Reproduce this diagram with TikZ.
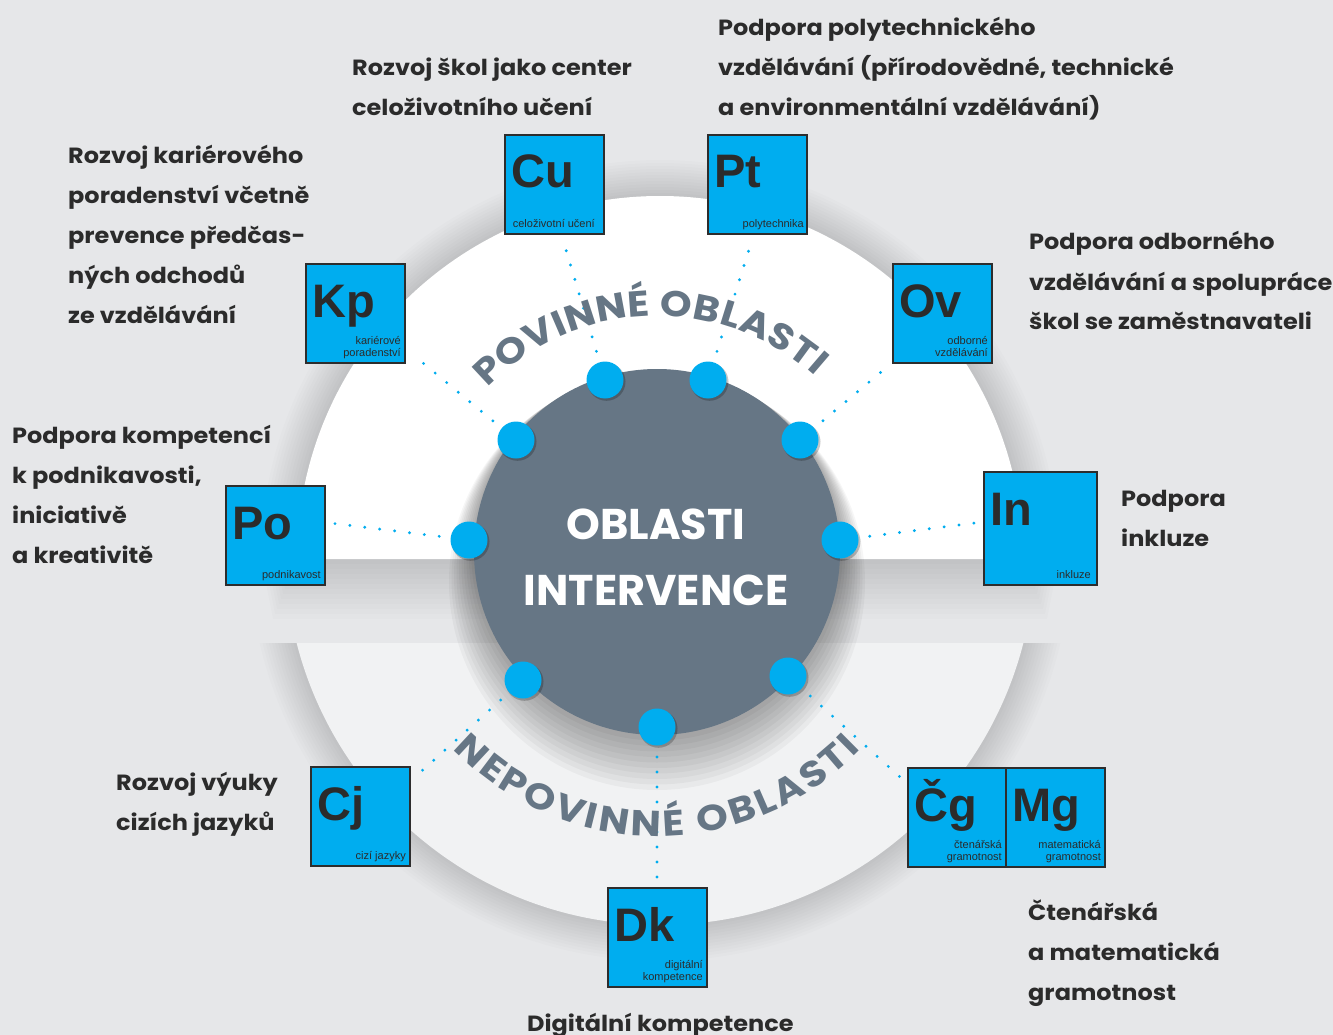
\documentclass[tikz,border=0pt]{standalone}
\usepackage{fontspec}
\usetikzlibrary{decorations.text}
\newfontfamily\pop{Poppins}[FakeStretch=1.09]
\newfontfamily\popa{Poppins}[FakeStretch=1.12]
\newfontfamily\popc{Poppins}
\newfontfamily\arl{Liberation Sans}
\definecolor{bgc}{HTML}{E6E7E9}
\definecolor{lowc}{HTML}{F1F2F3}
\definecolor{slate}{HTML}{667685}
\definecolor{cyanb}{HTML}{00ADEF}
\definecolor{ink}{HTML}{2B2B2B}
\definecolor{boxline}{HTML}{2D2D2D}
\pgfdeclarelayer{bgl}
\pgfdeclarelayer{linel}
\pgfsetlayers{bgl,linel,main}
\newcommand\blktab[1]{\begin{tabular}[t]{@{}l@{}}#1\end{tabular}}
\newcommand\subtab[1]{\begin{tabular}[b]{@{}r@{}}#1\end{tabular}}
\newcommand\arcf{\popa\bfseries\fontsize{36}{36}\selectfont}
\tikzset{
 boxn/.style={draw=boxline, line width=1.5pt, fill=cyanb, minimum size=99pt, inner sep=0pt, outer sep=0pt, anchor=north west},
 symn/.style={font=\arl\bfseries\fontsize{47}{47}\selectfont, text=ink, inner sep=0pt, anchor=base west},
 subn/.style={font=\arl\fontsize{11}{11.5}\selectfont, text=ink, inner sep=0pt, anchor=base east},
 bdot/.style={circle, fill=cyanb, minimum size=37pt, inner sep=0pt},
 dshad/.style={circle, fill=black, fill opacity=0.22, minimum size=38pt, inner sep=0pt},
 dotline/.style={draw=cyanb, line width=3.2pt, line cap=round, dash pattern=on 0pt off 15pt},
 blk/.style={font=\pop\bfseries\fontsize{22}{40}\selectfont, text=ink, inner sep=0pt, anchor=base west},
 ctext/.style={font=\popc\bfseries\fontsize{43}{43}\selectfont, text=white, inner sep=0pt, anchor=base},
}
\begin{document}
\begin{tikzpicture}[x=1pt,y=1pt]
\useasboundingbox (0,0) rectangle (1333,-1035);
\begin{pgfonlayer}{bgl}
\fill[bgc] (0,0) rectangle (1333,-1035);
% lower disc with shadow
\begin{scope}
 \clip (0,-643) rectangle (1333,-1035);
 \foreach \k in {1,...,12}{
  \fill[black,opacity=0.0125] (660,-550) circle[radius=375+3*\k];
 }
 \fill[lowc] (660,-550) circle[radius=375];
\end{scope}
% upper disc with shadow
\foreach \k in {1,...,12}{
 \fill[black,opacity=0.011] (660-363-2*\k,-559-5*\k) -- (660-363-3*\k,-559)
   arc[start angle=180,end angle=0,radius=363+3*\k] -- (660+363+2*\k,-559-5*\k) -- cycle;
}
\fill[white] (297,-559) arc[start angle=180,end angle=0,radius=363] -- cycle;
% central circle with shadow
\foreach \k in {1,...,10}{
 \fill[black,opacity=0.035] (657,-552-3*\k) circle[radius=183+2.5*\k];
}
\fill[slate] (657,-552) circle[radius=183];
\end{pgfonlayer}

% boxes
\node[boxn] (cu) at (505,-135) {};
\node[boxn] (pt) at (708,-135) {};
\node[boxn] (kp) at (306,-264) {};
\node[boxn] (ov) at (893,-264) {};
\node[boxn] (po) at (226,-486) {};
\node[boxn, minimum size=113pt] (in) at (984,-472) {};
\node[boxn] (cj) at (311,-767) {};
\node[boxn, minimum width=98pt] (cg) at (908,-768) {};
\node[boxn] (mg) at (1006,-768) {};
\node[boxn] (dk) at (608,-888) {};

\node[symn] (cus) at ([shift={(6,-53)}]cu.north west) {Cu};
\node[symn] (pts) at ([shift={(6,-53)}]pt.north west) {Pt};
\node[symn] (kps) at ([shift={(6,-53)}]kp.north west) {Kp};
\node[symn] (ovs) at ([shift={(6,-53)}]ov.north west) {Ov};
\node[symn] (pos) at ([shift={(6,-53)}]po.north west) {Po};
\node[symn] (ins) at ([shift={(6,-53)}]in.north west) {In};
\node[symn] (cjs) at ([shift={(6,-53)}]cj.north west) {Cj};
\node[symn] (cgs) at ([shift={(6,-53)}]cg.north west) {Čg};
\node[symn] (mgs) at ([shift={(6,-53)}]mg.north west) {Mg};
\node[symn] (dks) at ([shift={(6,-53)}]dk.north west) {Dk};

\node[subn] (cul) at ([shift={(-9,7)}]cu.south east) {celoživotní učení};
\node[subn] (ptl) at ([shift={(-3,7)}]pt.south east) {polytechnika};
\node[subn] (kpl) at ([shift={(-4,7)}]kp.south east) {\subtab{kariérové\\poradenství}};
\node[subn] (ovl) at ([shift={(-4,7)}]ov.south east) {\subtab{odborné\\vzdělávání}};
\node[subn] (pol) at ([shift={(-4,7)}]po.south east) {podnikavost};
\node[subn] (inl) at ([shift={(-6,7)}]in.south east) {inkluze};
\node[subn] (cjl) at ([shift={(-4,7)}]cj.south east) {cizí jazyky};
\node[subn] (cgl) at ([shift={(-4,7)}]cg.south east) {\subtab{čtenářská\\gramotnost}};
\node[subn] (mgl) at ([shift={(-4,7)}]mg.south east) {\subtab{matematická\\gramotnost}};
\node[subn] (dkl) at ([shift={(-4,7)}]dk.south east) {\subtab{digitální\\kompetence}};

% connector end points near the boxes
\coordinate (ecu) at (563,-240);
\coordinate (ept) at (752,-240);
\coordinate (ekp) at (417,-358);
\coordinate (eov) at (887,-367);
\coordinate (epo) at (330,-523);
\coordinate (ein) at (975,-523);
\coordinate (ecj) at (415,-777);
\coordinate (ecg) at (900,-777);
\coordinate (edk) at (657,-885);

% dot shadows and dots
\foreach \p/\x/\y in {cu/605/380, pt/708/380, kp/516/440, ov/800/440, po/469/540, in/840/540, cj/523/680, cg/788/676, dk/657/727}{
 \node[dshad] at (\x+1.5,-\y-1.8) {};
}
\node[bdot] (dcu) at (605,-380) {};
\node[bdot] (dpt) at (708,-380) {};
\node[bdot] (dkp) at (516,-440) {};
\node[bdot] (dov) at (800,-440) {};
\node[bdot] (dpo) at (469,-540) {};
\node[bdot] (din) at (840,-540) {};
\node[bdot] (dcj) at (523,-680) {};
\node[bdot] (dcg) at (788,-676) {};
\node[bdot] (ddk) at (657,-727) {};

\begin{pgfonlayer}{linel}
\foreach \a/\b in {dcu/ecu, dpt/ept, dkp/ekp, dov/eov, dpo/epo, din/ein, dcj/ecj, dcg/ecg, ddk/edk}{
 \draw[dotline] (\a.center) -- (\b);
}
% arc texts
\path[decorate, decoration={text along path, text align={fit to path}, text color=slate,
  text={|\arcf|POVINNÉ OBLASTI}}]
  ([shift={(136:236)}]657,-552) arc[start angle=136,end angle=48,radius=236];
\path[decorate, decoration={text along path, text align={fit to path}, text color=slate,
  text={|\arcf|NEPOVINNÉ OBLASTI}}]
  ([shift={(224:284)}]657,-552) arc[start angle=224,end angle=316,radius=284];
\end{pgfonlayer}

% central text
\node[ctext] (t1) at (656,-539) {OBLASTI};
\node[ctext] (t2) at (656,-605) {INTERVENCE};

% descriptions
\node[blk] (b1) at (352,-76) {\blktab{Rozvoj škol jako center\\celoživotního učení}};
\node[blk] (b2) at (718,-36) {\blktab{Podpora polytechnického\\vzdělávání (přírodovědné, technické\\a environmentální vzdělávání)}};
\node[blk] (b3) at (68,-164) {\blktab{Rozvoj kariérového\\poradenství včetně\\prevence předčas-\\ných odchodů\\ze vzdělávání}};
\node[blk] (b4) at (1029,-250) {\blktab{Podpora odborného\\vzdělávání a spolupráce\\škol se zaměstnavateli}};
\node[blk] (b5) at (12,-443) {\blktab{Podpora kompetencí\\k podnikavosti,\\iniciativě\\a kreativitě}};
\node[blk] (b6) at (1121,-506) {\blktab{Podpora\\inkluze}};
\node[blk] (b7) at (116,-790) {\blktab{Rozvoj výuky\\cizích jazyků}};
\node[blk] (b8) at (1028,-920) {\blktab{Čtenářská\\a matematická\\gramotnost}};
\node[blk] (b9) at (527,-1031) {Digitální kompetence};
\end{tikzpicture}
\end{document}
